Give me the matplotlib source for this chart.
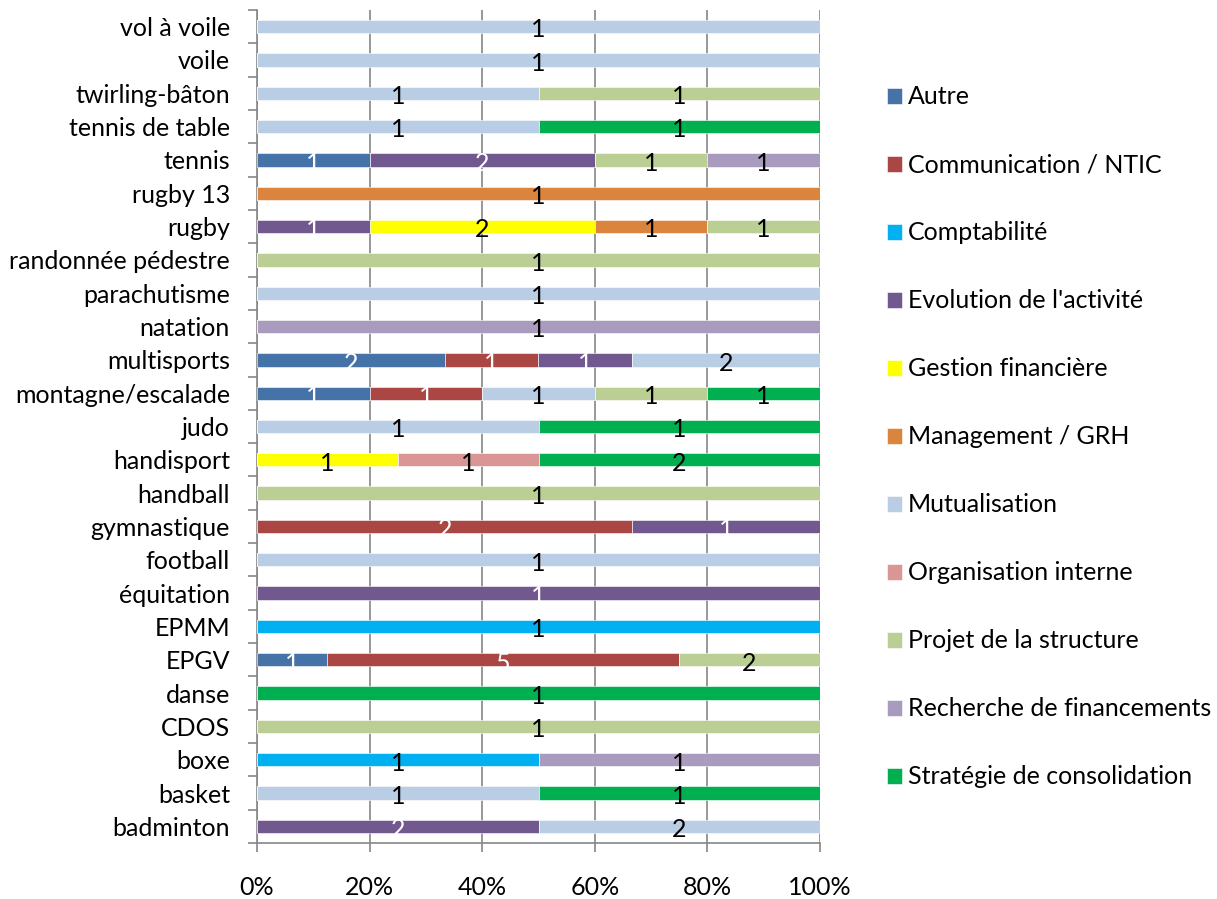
import matplotlib.pyplot as plt
import numpy as np

plt.rcParams['font.family'] = ['Lato', 'DejaVu Sans']

sports = ['badminton', 'basket', 'boxe', 'CDOS', 'danse', 'EPGV', 'EPMM',
          'équitation', 'football', 'gymnastique', 'handball', 'handisport',
          'judo', 'montagne/escalade', 'multisports', 'natation', 'parachutisme',
          'randonnée pédestre', 'rugby', 'rugby 13', 'tennis', 'tennis de table',
          'twirling-bâton', 'voile', 'vol à voile']

themes = ['Autre', 'Communication / NTIC', 'Comptabilité', "Evolution de l'activité",
          'Gestion financière', 'Management / GRH', 'Mutualisation',
          'Organisation interne', 'Projet de la structure',
          'Recherche de financements', 'Stratégie de consolidation']

# counts per theme, in the order of sports above
autre =         [0, 0, 0, 0, 0, 1, 0, 0, 0, 0, 0, 0, 0, 1, 2, 0, 0, 0, 0, 0, 1, 0, 0, 0, 0]
communication = [0, 0, 0, 0, 0, 5, 0, 0, 0, 2, 0, 0, 0, 1, 1, 0, 0, 0, 0, 0, 0, 0, 0, 0, 0]
comptabilite =  [0, 0, 1, 0, 0, 0, 1, 0, 0, 0, 0, 0, 0, 0, 0, 0, 0, 0, 0, 0, 0, 0, 0, 0, 0]
evolution =     [2, 0, 0, 0, 0, 0, 0, 1, 0, 1, 0, 0, 0, 0, 1, 0, 0, 0, 1, 0, 2, 0, 0, 0, 0]
gestion =       [0, 0, 0, 0, 0, 0, 0, 0, 0, 0, 0, 1, 0, 0, 0, 0, 0, 0, 2, 0, 0, 0, 0, 0, 0]
management =    [0, 0, 0, 0, 0, 0, 0, 0, 0, 0, 0, 0, 0, 0, 0, 0, 0, 0, 1, 1, 0, 0, 0, 0, 0]
mutualisation = [2, 1, 0, 0, 0, 0, 0, 0, 1, 0, 0, 0, 1, 1, 2, 0, 1, 0, 0, 0, 0, 1, 1, 1, 1]
organisation =  [0, 0, 0, 0, 0, 0, 0, 0, 0, 0, 0, 1, 0, 0, 0, 0, 0, 0, 0, 0, 0, 0, 0, 0, 0]
projet =        [0, 0, 0, 1, 0, 2, 0, 0, 0, 0, 1, 0, 0, 1, 0, 0, 0, 1, 1, 0, 1, 0, 1, 0, 0]
recherche =     [0, 0, 1, 0, 0, 0, 0, 0, 0, 0, 0, 0, 0, 0, 0, 1, 0, 0, 0, 0, 1, 0, 0, 0, 0]
strategie =     [0, 1, 0, 0, 1, 0, 0, 0, 0, 0, 0, 2, 1, 1, 0, 0, 0, 0, 0, 0, 0, 1, 0, 0, 0]

series = [autre, communication, comptabilite, evolution, gestion, management,
          mutualisation, organisation, projet, recherche, strategie]
colors = ['#4572A7', '#AA4643', '#00B0F0', '#71588F', '#FFFF00', '#DB843D',
          '#B9CDE5', '#D99694', '#BBCF95', '#A99BBD', '#00B050']
white_text = {0, 1, 3}

data = np.array(series, dtype=float)
totals = data.sum(axis=0)
shares = data / totals * 100

fs = 18
fig = plt.figure(figsize=(12.17, 8.99), dpi=100)
ax = fig.add_axes([257 / 1217, 56 / 899, 563 / 1217, 833 / 899])

y = np.arange(len(sports))
left = np.zeros(len(sports))
for k, (name, col) in enumerate(zip(themes, colors)):
    ax.barh(y, shares[k], left=left, height=0.4, color=col, label=name,
            edgecolor='white', linewidth=0.4, zorder=3)
    for i in range(len(sports)):
        if data[k, i] > 0:
            ax.text(left[i] + shares[k, i] / 2, y[i] - 0.1, f'{int(data[k, i])}',
                    ha='center', va='center', fontsize=fs,
                    color='white' if k in white_text else 'black', zorder=4)
    left += shares[k]

ax.set_xlim(0, 100)
ax.set_ylim(-0.5, len(sports) - 0.5)
ax.set_xticks([0, 20, 40, 60, 80, 100])
ax.set_xticklabels(['0%', '20%', '40%', '60%', '80%', '100%'], fontsize=fs)
ax.set_yticks(y)
ax.set_yticklabels(sports, fontsize=fs)
ax.set_yticks(np.arange(-0.5, len(sports), 1), minor=True)
ax.tick_params(axis='y', which='major', length=0, pad=19.5)
ax.tick_params(axis='y', which='minor', length=6.5, color='#868686', width=1.2)
ax.tick_params(axis='x', length=6.5, color='#868686', width=1.2, pad=17)
ax.grid(axis='x', color='#868686', linewidth=1.2, zorder=0)
for s in ['top', 'right']:
    ax.spines[s].set_visible(False)
for s in ['left', 'bottom']:
    ax.spines[s].set_color('#868686')
    ax.spines[s].set_linewidth(1.2)

fig.legend(loc='upper left', bbox_to_anchor=(887 / 1217, 1 - 85.5 / 899), frameon=False,
           fontsize=fs, handlelength=0.6, handleheight=0.6, handletextpad=0.25,
           labelspacing=1.8, borderaxespad=0, borderpad=0)

fig.savefig('out.png', dpi=100)
